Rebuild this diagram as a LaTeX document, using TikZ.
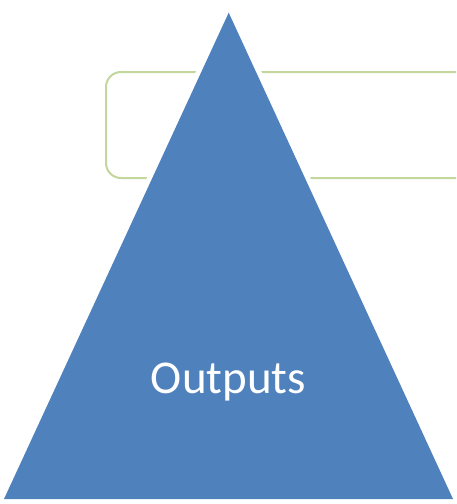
\documentclass[tikz,border=0pt]{standalone}
\usepackage{fontspec}
\setmainfont{Carlito}
\usepackage{tikz}
\usetikzlibrary{positioning}
\definecolor{OutBlue}{RGB}{79,129,189}
\definecolor{BoxGreen}{RGB}{195,214,155}

\begin{document}
\begin{tikzpicture}[
                x=1pt, y=-1pt,
                greenbox/.style={
                    draw=BoxGreen, 
                    line width=2pt, 
                    rounded corners=15pt
                },
                tri/.style={fill=OutBlue},
                halo/.style={draw=white, line width=10pt, line join=round},
                label/.style={
                    text=white, 
                    font=\fontsize{47}{56}\selectfont, 
                    inner sep=0pt
                }
            ]
                \useasboundingbox (0,0) rectangle (456,504);
                \clip (0,0) rectangle (456,504);
                \draw[greenbox] (106,72) rectangle (480,178);

                \coordinate (top) at (228.7,12.7);
                \coordinate (bl) at (4,499);
                \coordinate (br) at (453,499);
                \draw[halo] (top) -- (bl) -- (br) -- cycle;
                \fill[tri] (top) -- (bl) -- (br) -- cycle;

                \node[label, anchor=base] (outputs) at (228.5,393) {Outputs};
            \end{tikzpicture}
\end{document}
